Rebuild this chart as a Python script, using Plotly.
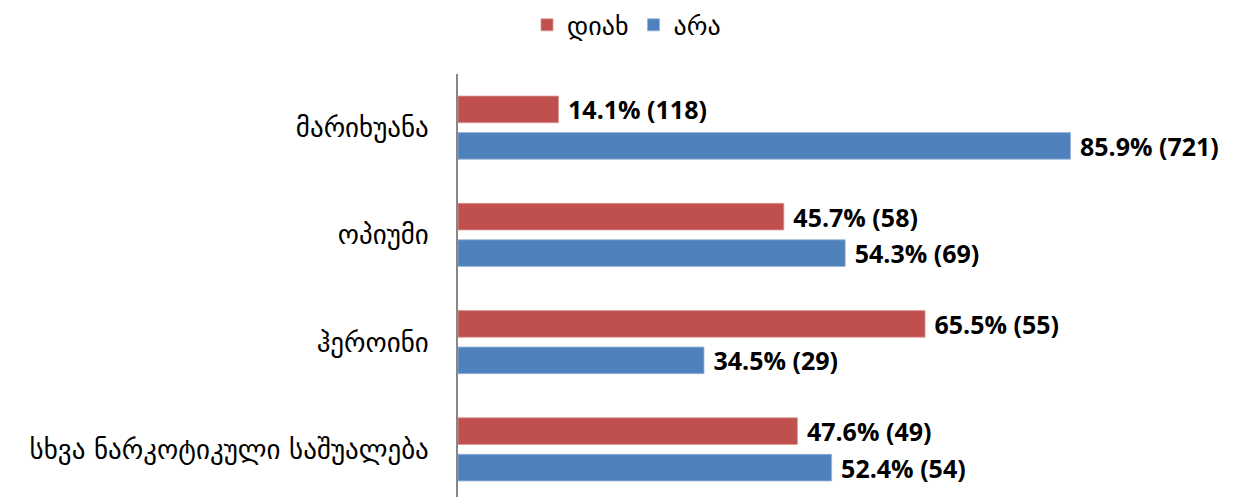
import plotly.graph_objects as go

categories = ["მარიხუანა", "ოპიუმი", "ჰეროინი", "სხვა ნარკოტიკული საშუალება"]
yes_pct = [14.1, 45.7, 65.5, 47.6]
yes_n = [118, 58, 55, 49]
no_pct = [85.9, 54.3, 34.5, 52.4]
no_n = [721, 69, 29, 54]
series_names = ["დიახ", "არა"]

label_font = dict(family="Open Sans, Lato, sans-serif", size=25, color="black", weight="bold")

fig = go.Figure()
fig.add_trace(go.Bar(
    y=categories, x=yes_pct, orientation="h", name=series_names[0],
    marker=dict(color="#C0504D", line=dict(color="#D99694", width=0.8)),
    text=[f" <b>{p}% ({n})</b>" for p, n in zip(yes_pct, yes_n)],
    textposition="outside", textfont=label_font, cliponaxis=False,
    constraintext="none", hoverinfo="skip",
))
fig.add_trace(go.Bar(
    y=categories, x=no_pct, orientation="h", name=series_names[1],
    marker=dict(color="#4F81BD", line=dict(color="#95B3D7", width=0.8)),
    text=[f" <b>{p}% ({n})</b>" for p, n in zip(no_pct, no_n)],
    textposition="outside", textfont=label_font, cliponaxis=False,
    constraintext="none", hoverinfo="skip",
))

fig.update_layout(
    width=1237, height=497,
    barmode="group", bargap=0.32, bargroupgap=0.27,
    plot_bgcolor="white", paper_bgcolor="white",
    margin=dict(l=450, r=74, t=66, b=8, autoexpand=False),
    showlegend=True,
    legend=dict(orientation="h", xref="container", x=0.5, xanchor="center",
                yref="paper", y=1.116, yanchor="middle",
                font=dict(family="DejaVu Sans", size=26, color="black"),
                traceorder="normal", itemwidth=30),
    font=dict(family="DejaVu Sans", color="black"),
)
fig.update_xaxes(range=[0, 100], showgrid=False, zeroline=False, showticklabels=False,
                 showline=False, automargin=False)
fig.update_yaxes(type="category", range=[3.444, -0.5], showgrid=False, zeroline=False,
                 showline=True, linecolor="#878787", linewidth=1.5, ticks="",
                 ticklabelstandoff=22, automargin=False,
                 tickfont=dict(family="DejaVu Sans", size=27, color="black"))

fig.write_html("out.html")
